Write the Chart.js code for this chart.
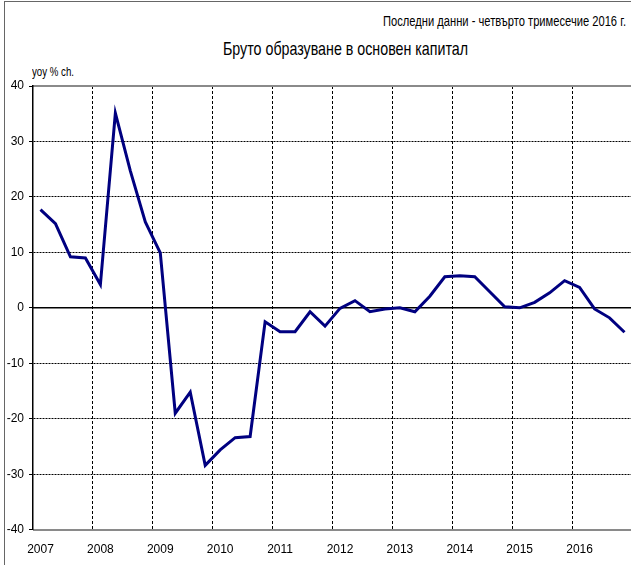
<!DOCTYPE html>
<html>
<head>
    <meta charset="utf-8">
    <title>Бруто образуване в основен капитал</title>
    <script src="https://cdn.jsdelivr.net/npm/chart.js"></script>
    <style>
        body {
            margin: 0;
            width: 631px;
            height: 565px;
            overflow: hidden;
            background: #fff;
            position: relative;
            font-family: "Liberation Sans", Arial, sans-serif;
            color: #000;
        }
        .frame {
            position: absolute;
            left: 4px;
            top: 1px;
            width: 700px;
            height: 700px;
            border-left: 1.5px solid #666;
            border-top: 1.5px solid #666;
        }
        .txt {
            position: absolute;
            white-space: nowrap;
            line-height: 1;
            transform-origin: 0 50%;
        }
        .subtitle { top: 13px; font-size: 15px; }
        .title { top: 39px; font-size: 19px; }
        .unit { top: 66px; font-size: 12px; }
        #chart {
            position: absolute;
            left: 0;
            top: 0;
        }
    </style>
</head>
<body>
    <div class="frame"></div>
    <div class="txt subtitle" id="sub">Последни данни - четвърто тримесечие 2016 г.</div>
    <div class="txt title" id="ttl">Бруто образуване в основен капитал</div>
    <div class="txt unit" id="unit">yoy % ch.</div>
    <canvas id="chart" width="640" height="565"></canvas>

    <script>
        // years on the axis, four quarters each
        var years = ['2007', '2008', '2009', '2010', '2011', '2012', '2013', '2014', '2015', '2016'];
        var quarters = ['Q1', 'Q2', 'Q3', 'Q4'];

        // yoy % change, 2007 Q1 .. 2016 Q4
        var values = [
            17.7, 15.2, 9.2, 9.0,
            4.2, 35.1, 24.7, 15.5,
            9.9, -19.0, -15.2, -28.4,
            -25.6, -23.4, -23.2, -2.5,
            -4.3, -4.3, -0.7, -3.3,
            -0.1, 1.3, -0.7, -0.2,
            0.0, -0.7, 2.1, 5.6,
            5.8, 5.6, 2.9, 0.2,
            0.0, 1.0, 2.7, 4.9,
            3.7, -0.2, -1.8, -4.4
        ];

        var yTicks = [-40, -30, -20, -10, 0, 10, 20, 30, 40];

        var categories = [];
        years.forEach(function (y) {
            quarters.forEach(function (q) { categories.push(y + ' ' + q); });
        });

        // the source uses a narrow face; squeeze the header texts to its widths
        function squeeze(id, left, width) {
            var el = document.getElementById(id);
            var w = el.getBoundingClientRect().width;
            el.style.left = left + 'px';
            el.style.transform = 'scaleX(' + (width / w) + ')';
        }
        squeeze('sub', 383, 243);
        squeeze('ttl', 223, 245);
        squeeze('unit', 32, 42);

        Chart.defaults.font.family = '"Liberation Sans", Arial, sans-serif';
        Chart.defaults.color = '#000';

        new Chart(document.getElementById('chart').getContext('2d'), {
            type: 'line',
            data: {
                labels: categories,
                datasets: [{
                    data: values,
                    borderColor: '#000080',
                    borderWidth: 3,
                    pointRadius: 0,
                    fill: false,
                    tension: 0
                }]
            },
            options: {
                responsive: false,
                animation: false,
                layout: { padding: { top: 86, right: 8, bottom: 0, left: 0 } },
                plugins: {
                    legend: { display: false },
                    tooltip: { enabled: false }
                },
                scales: {
                    x: {
                        type: 'category',
                        offset: true,
                        grid: {
                            offset: true,
                            drawTicks: false,
                            lineWidth: 1,
                            color: function (ctx) {
                                return (ctx.index > 0 && ctx.index % 4 === 0) ? '#000' : 'rgba(0,0,0,0)';
                            }
                        },
                        border: { display: false, dash: [3, 2] },
                        ticks: {
                            autoSkip: false,
                            maxRotation: 0,
                            padding: 13,
                            font: { size: 12 },
                            callback: function (v, i) {
                                return i % 4 === 0 ? years[i / 4] : '';
                            }
                        },
                        afterFit: function (s) { s.height = 35.3; }
                    },
                    y: {
                        min: -40,
                        max: 40,
                        afterBuildTicks: function (s) {
                            s.ticks = yTicks.map(function (v) { return { value: v }; });
                        },
                        grid: {
                            lineWidth: 1,
                            color: function (ctx) {
                                var v = ctx.tick && ctx.tick.value;
                                return (v === 0 || v === 40 || v === -40) ? 'rgba(0,0,0,0)' : '#000';
                            },
                            drawTicks: true,
                            tickLength: 4,
                            tickColor: '#000',
                            tickWidth: 1
                        },
                        border: { display: true, color: '#000', width: 1.5, dash: [2, 1] },
                        ticks: { padding: 5, font: { size: 12 } },
                        afterFit: function (s) { s.width = 33; }
                    },
                    y2: {
                        position: 'right',
                        min: -40,
                        max: 40,
                        afterBuildTicks: function (s) {
                            s.ticks = yTicks.map(function (v) { return { value: v }; });
                        },
                        grid: {
                            drawTicks: false,
                            lineWidth: function (ctx) {
                                return ctx.tick && ctx.tick.value === 0 ? 1.5 : 2;
                            },
                            color: function (ctx) {
                                var v = ctx.tick && ctx.tick.value;
                                if (v === 0) return '#000';
                                if (v === 40 || v === -40) return '#8a8a8a';
                                return 'rgba(0,0,0,0)';
                            }
                        },
                        border: { display: false, dash: [] },
                        ticks: { display: false },
                        afterFit: function (s) { s.width = 0; }
                    }
                }
            }
        });
    </script>
</body>
</html>
